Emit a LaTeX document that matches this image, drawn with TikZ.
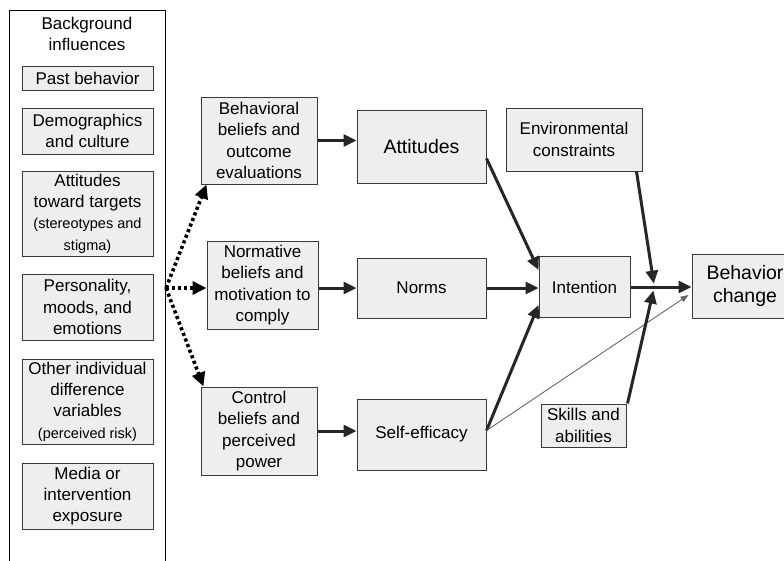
\documentclass[tikz,border=0pt]{standalone}
\usepackage{fontspec}
\setmainfont{Liberation Sans}
\usepackage{tikz}
\usetikzlibrary{
    arrows.meta,
    positioning,
    calc
}
\newcommand{\bodyfont}{\fontsize{17}{21.3}\selectfont}
\newcommand{\notefont}{\fontsize{14.5}{18}\selectfont}
\newcommand{\bigfont}{\fontsize{19.5}{23}\selectfont}
\definecolor{boxfill}{HTML}{EEEEEE}
\definecolor{boxline}{HTML}{3A3A3A}
\tikzset{
    factor/.style={
        draw=boxline,
        fill=boxfill,
        line width=1pt,
        inner sep=0pt,
        align=center,
        font=\bodyfont
    }
}
\tikzset{
    panel/.style={
        draw=black,
        line width=1pt,
        inner sep=0pt
    }
}
\tikzset{
    causal/.style={
        draw=black!85,
        line width=3pt,
        -{Triangle[length=13pt,width=12pt]}
    }
}
\tikzset{
    weaklink/.style={
        draw=black!60,
        line width=0.9pt,
        -{Triangle[length=8pt,width=6pt]}
    }
}
\tikzset{
    influence/.style={
        draw=black,
        line width=3.6pt,
        dash pattern=on 3.2pt off 2.8pt,
        -{Triangle[length=14pt,width=13pt]}
    }
}

\begin{document}
\begin{tikzpicture}[
    x=1pt,
    y=-1pt
]
\useasboundingbox (0,0) rectangle (784,560);

% ------------------------------------------------------------
% Background influences
% ------------------------------------------------------------

\node[panel, minimum width=156pt, minimum height=590pt, anchor=north west] (bg) at (9,10) {};
\node[align=center, font=\bodyfont, inner sep=0pt] (bgtitle) at (87,34) {Background\\influences};
\node[factor, minimum width=131pt, minimum height=24pt] (past) at (87.5,78) {Past behavior};
\node[factor, minimum width=131pt, minimum height=46pt] (demo) at (87.5,131) {Demographics\\and culture};
\node[factor, minimum width=131pt, minimum height=85pt] (targets) at (87.5,213.5)
    {Attitudes\\toward targets\\\notefont (stereotypes and\\\notefont stigma)};
\node[factor, minimum width=131pt, minimum height=66pt] (mood) at (87.5,307) {Personality,\\moods, and\\emotions};
\node[factor, minimum width=131pt, minimum height=85pt] (diff) at (87.5,401.5)
    {Other individual\\difference\\variables\\\notefont (perceived risk)};
\node[factor, minimum width=131pt, minimum height=66pt] (media) at (87.5,496) {Media or\\intervention\\exposure};

% ------------------------------------------------------------
% Beliefs
% ------------------------------------------------------------

\node[factor, minimum width=116pt, minimum height=87pt] (behav) at (259,140.5)
    {Behavioral\\beliefs and\\outcome\\evaluations};
\node[factor, minimum width=111pt, minimum height=88pt] (normb) at (262.5,285)
    {Normative\\beliefs and\\motivation to\\comply};
\node[factor, minimum width=116pt, minimum height=88pt] (ctrl) at (259,431)
    {Control\\beliefs and\\perceived\\power};

\coordinate (fork) at (bg.east |- 0,288);
\draw[influence] (fork) -- ([xshift=6pt]behav.south west);
\draw[influence] (fork) -- (fork -| normb.west);
\draw[influence] (fork) -- ([xshift=3pt]ctrl.north west);

% ------------------------------------------------------------
% Attitudes, norms, self-efficacy
% ------------------------------------------------------------

\node[factor, minimum width=129pt, minimum height=73pt, font=\bigfont] (att) at (421.5,146.5) {Attitudes};
\node[factor, minimum width=129pt, minimum height=60pt] (norms) at (421.5,288) {Norms};
\node[factor, minimum width=129pt, minimum height=71pt] (selfeff) at (421.5,434.5) {Self-efficacy};

\draw[causal] (behav.east) -- (behav.east -| att.west);
\draw[causal] (norms.west -| normb.east) -- (norms.west);
\draw[causal] (ctrl.east) -- (ctrl.east -| selfeff.west);

% ------------------------------------------------------------
% Intention and behavior change
% ------------------------------------------------------------

\node[factor, minimum width=136pt, minimum height=63pt] (env) at (574,139.5) {Environmental\\constraints};
\node[factor, minimum width=91pt, minimum height=61pt] (intent) at (584.5,287) {Intention};
\node[factor, minimum width=85pt, minimum height=43pt] (skills) at (583.5,425.5) {Skills and\\abilities};
\node[factor, minimum width=106pt, minimum height=64pt, font=\bigfont] (change) at (745,286) {Behavior\\change};

\draw[causal] ([yshift=-12pt]att.east) -- ([yshift=-14pt]intent.north west);
\draw[causal] (norms.east) -- (norms.east -| intent.west);
\draw[causal] ([yshift=4pt]selfeff.east) -- ([yshift=-18pt]intent.west);
\draw[weaklink] ([yshift=4pt]selfeff.east) -- ([xshift=-3pt,yshift=-9pt]change.west);

\coordinate (junc) at ($(intent.east)!0.39!(change.west)$);
\draw[causal] (intent.east) -- (intent.east -| change.west);
\draw[causal, shorten >=3pt] ([xshift=-6pt]env.south east) -- (junc);
\draw[causal, shorten >=4pt] ([xshift=1pt]skills.north east) -- (junc);

\end{tikzpicture}
\end{document}
